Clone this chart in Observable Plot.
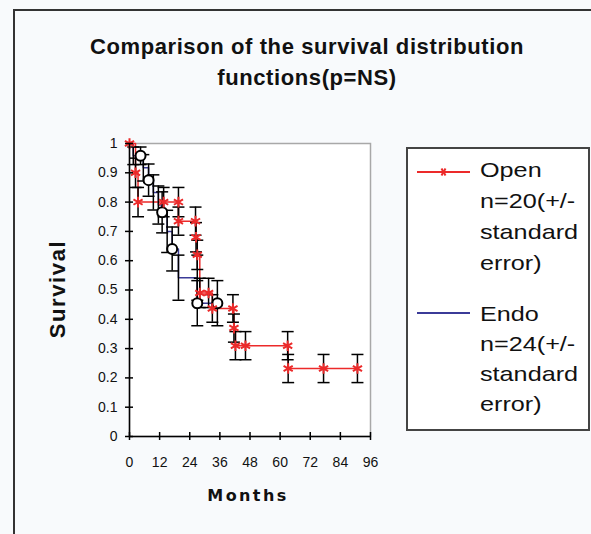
<!DOCTYPE html>
<html><head><meta charset="utf-8">
<script src="https://cdn.jsdelivr.net/npm/d3@7"></script>
<script src="https://cdn.jsdelivr.net/npm/@observablehq/plot@0.6"></script>
<style>
body{margin:0;background:#f8fafc;}
#wrap{position:relative;width:591px;height:534px;overflow:hidden;font-family:"Liberation Sans",Arial,sans-serif;color:#111;}
#frame{position:absolute;left:13px;top:9px;width:600px;height:600px;border-left:2px solid #333;border-top:2px solid #333;}
#title{position:absolute;left:0;width:614px;top:31px;text-align:center;font-weight:bold;font-size:22px;letter-spacing:0.6px;line-height:31px;}
#plot{position:absolute;left:0;top:0;}
#ylab{position:absolute;left:58px;top:289px;transform:translate(-50%,-50%) rotate(-90deg);font-weight:bold;font-size:22px;letter-spacing:1.6px;white-space:nowrap;}
#xlab{position:absolute;left:248px;top:495px;transform:translate(-50%,-50%);font-family:"DejaVu Sans";font-weight:bold;font-size:16px;letter-spacing:2.4px;white-space:nowrap;}
#legend{position:absolute;left:406px;top:147px;width:180px;height:280px;border:2px solid #444;background:#fff;overflow:hidden;}
#legend .blk{position:absolute;left:72px;font-size:21px;white-space:nowrap;transform:scaleX(1.2);transform-origin:0 0;}
#legend svg{position:absolute;left:0;top:0;}
</style></head>
<body>
<div id="wrap">
  <div id="frame"></div>
  <div id="title">Comparison of the survival distribution<br>functions(p=NS)</div>
  <div id="plot"></div>
  <div id="ylab">Survival</div>
  <div id="xlab">Months</div>
  <div id="legend"></div>
</div>
<script>
// ----- data -----
const seriesNames = ["Open", "Endo"];
const legendLabels = [["Open", "n=20(+/-", "standard", "error)"], ["Endo", "n=24(+/-", "standard", "error)"]];
const openT  = [0, 2.4, 3.4, 13.6, 19.5, 19.5, 26.3, 26.5, 27, 28, 31.5, 33, 41.2, 41.6, 42.2, 46.2, 63, 63.2, 77.3, 90.8];
const openS  = [1, 0.9, 0.8, 0.8, 0.8, 0.735, 0.735, 0.68, 0.62, 0.49, 0.49, 0.437, 0.437, 0.37, 0.31, 0.31, 0.31, 0.232, 0.232, 0.232];
const openSE = [0, 0.05, 0.05, 0.05, 0.05, 0.048, 0.048, 0.05, 0.05, 0.05, 0.05, 0.047, 0.047, 0.048, 0.048, 0.048, 0.048, 0.048, 0.048, 0.048];
const endoT  = [0, 1.5, 4.4, 5.5, 7.6, 9.5, 11.5, 13, 15, 17, 19.5, 27, 27, 35];
const endoS  = [1, 0.958, 0.958, 0.917, 0.875, 0.833, 0.79, 0.765, 0.7, 0.64, 0.542, 0.542, 0.455, 0.455];
const endoSE = [0, 0.03, 0.03, 0.045, 0.055, 0.06, 0.065, 0.07, 0.072, 0.075, 0.077, 0.077, 0.077, 0.077];
const endoCensored = [0, 0, 1, 0, 1, 0, 0, 1, 0, 1, 0, 0, 1, 1];
const xTicks = [0, 12, 24, 36, 48, 60, 72, 84, 96];
const yTicks = [0, 0.1, 0.2, 0.3, 0.4, 0.5, 0.6, 0.7, 0.8, 0.9, 1];

const RED = "#ec2a2a", BLUE = "#3b3b98";

const openRows = openT.map((t, i) => ({t, s: openS[i], se: openSE[i]}));
const endoRows = endoT.map((t, i) => ({t, s: endoS[i], se: endoSE[i], c: endoCensored[i]}));
const errRows = [...openRows, ...endoRows].filter(d => d.se > 0);

const cap = {draw(ctx) { ctx.moveTo(-6, 0); ctx.lineTo(6, 0); }};

const chart = Plot.plot({
  width: 591, height: 534,
  marginLeft: 129, marginRight: 221, marginTop: 143, marginBottom: 98,
  style: {fontFamily: "'Liberation Sans', Arial, sans-serif", fontSize: "14px", background: "transparent", color: "#111"},
  x: {domain: [0, 96]},
  y: {domain: [0, 1]},
  marks: [
    Plot.frame({fill: "white", stroke: "#a8a8a8", strokeWidth: 1.5}),
    Plot.line(endoRows, {x: "t", y: "s", curve: "step-after", stroke: BLUE, strokeWidth: 1.5}),
    Plot.line(openRows, {x: "t", y: "s", curve: "step-after", stroke: RED, strokeWidth: 1.5}),
    Plot.ruleX(errRows, {x: "t", y1: d => d.s - d.se, y2: d => d.s + d.se, stroke: "black", strokeWidth: 1.5}),
    Plot.dot(errRows, {x: "t", y: d => d.s + d.se, symbol: cap, stroke: "black", strokeWidth: 1.5}),
    Plot.dot(errRows, {x: "t", y: d => d.s - d.se, symbol: cap, stroke: "black", strokeWidth: 1.5}),
    Plot.dot(endoRows.filter(d => d.c), {x: "t", y: "s", r: 5, stroke: "black", fill: "white", strokeWidth: 2}),
    Plot.dot(openRows, {x: "t", y: "s", symbol: "asterisk", r: 5, stroke: RED, strokeWidth: 2}),
    Plot.ruleX([0], {stroke: "black", strokeWidth: 1.5}),
    Plot.ruleY([0], {stroke: "black", strokeWidth: 1.5}),
    Plot.axisY({ticks: yTicks, tickSize: 8, dx: 4, tickFormat: () => "", label: null, stroke: "black", strokeWidth: 1.5}),
    Plot.axisY({ticks: yTicks, tickSize: 0, tickPadding: 12, tickFormat: d => String(d), label: null, fontSize: 14}),
    Plot.axisX({ticks: xTicks, tickSize: 8, dy: -4, tickFormat: () => "", label: null, stroke: "black", strokeWidth: 1.5}),
    Plot.axisX({ticks: xTicks, tickSize: 0, tickPadding: 21, tickFormat: d => String(d), label: null, fontSize: 14})
  ]
});
document.getElementById("plot").appendChild(chart);

// ----- legend -----
const legend = document.getElementById("legend");
const colors = [RED, BLUE];
const blockTops = [5, 150];
const lineHeights = [31, 30];
const sampleY = [23, 164];
let svg = `<svg width="180" height="280">`;
seriesNames.forEach((name, k) => {
  svg += `<line x1="9" x2="62" y1="${sampleY[k]}" y2="${sampleY[k]}" stroke="${colors[k]}" stroke-width="2"/>`;
});
svg += `<g transform="translate(35.5,${sampleY[0]})" stroke="${RED}" stroke-width="2"><line x1="-4" x2="4" y1="0" y2="0"/><line x1="-2" x2="2" y1="-3.5" y2="3.5"/><line x1="2" x2="-2" y1="-3.5" y2="3.5"/></g>`;
svg += `</svg>`;
let html = svg;
legendLabels.forEach((lines, k) => {
  html += `<div class="blk" style="top:${blockTops[k]}px;line-height:${lineHeights[k]}px">${lines.join("<br>")}</div>`;
});
legend.innerHTML = html;
</script>
</body></html>
